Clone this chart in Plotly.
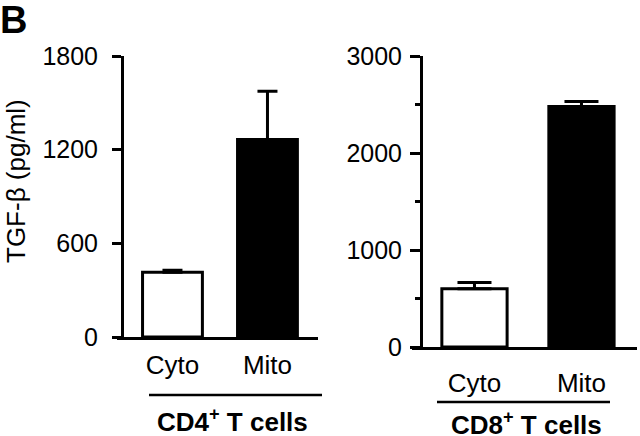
import plotly.graph_objects as go

categories = ["Cyto", "Mito"]
cd4_values = [415, 1265]
cd4_errors = [12, 310]
cd8_values = [600, 2480]
cd8_errors = [65, 50]
cd4_ticks = [0, 600, 1200, 1800]
cd8_ticks = [0, 1000, 2000, 3000]
bar_colors = ["white", "black"]
group_labels = ["CD4<sup>+</sup> T cells", "CD8<sup>+</sup> T cells"]
y_title = "TGF-β (pg/ml)"
panel_label = "B"

W, H = 640, 436
FONT = "Liberation Sans, Arial, Helvetica, sans-serif"


def px(x):
    return x / W


def py(y):
    return 1 - y / H


fig = go.Figure()
xpos = list(range(len(categories)))

fig.add_trace(go.Bar(
    x=xpos, y=cd4_values, width=0.63,
    marker=dict(color=bar_colors, line=dict(color="black", width=3)),
    error_y=dict(type="data", array=cd4_errors, arrayminus=[0, 0], symmetric=False,
                 color="black", thickness=3, width=10),
    xaxis="x", yaxis="y", showlegend=False,
))
fig.add_trace(go.Bar(
    x=xpos, y=cd8_values, width=0.61,
    marker=dict(color=bar_colors, line=dict(color="black", width=3)),
    error_y=dict(type="data", array=cd8_errors, arrayminus=[0, 0], symmetric=False,
                 color="black", thickness=3, width=17),
    xaxis="x2", yaxis="y2", showlegend=False,
))

tickfont = dict(family=FONT, size=25, color="black")
catfont = dict(family=FONT, size=26, color="black")

fig.update_layout(
    width=W, height=H,
    margin=dict(l=0, r=0, t=0, b=0, pad=0, autoexpand=False),
    paper_bgcolor="white", plot_bgcolor="white",
    font=dict(family=FONT, color="black"),
    xaxis=dict(domain=[px(117), px(318)], range=[-0.584, 1.532],
               tickvals=xpos, ticktext=categories, ticks="", ticklabelstandoff=3,
               tickfont=catfont,
               showline=True, linecolor="black", linewidth=3, showgrid=False,
               zeroline=False, anchor="y"),
    yaxis=dict(domain=[py(337), py(56)], range=[0, 1800], tickvals=cd4_ticks,
               ticks="outside", ticklen=9, tickwidth=3, tickcolor="black",
               ticklabelstandoff=9, tickfont=tickfont,
               showline=True, linecolor="black", linewidth=3, showgrid=False,
               zeroline=False, anchor="free", position=px(122)),
    xaxis2=dict(domain=[px(412), px(637)], range=[-0.584, 1.519],
                tickvals=xpos, ticktext=categories, ticks="", ticklabelstandoff=11,
                tickfont=catfont,
                showline=True, linecolor="black", linewidth=3, showgrid=False,
                zeroline=False, anchor="y2"),
    yaxis2=dict(domain=[py(347), py(56)], range=[0, 3000], tickvals=cd8_ticks,
                ticks="outside", ticklen=10, tickwidth=3, tickcolor="black",
                ticklabelstandoff=3, tickfont=tickfont,
                minor=dict(dtick=500, ticks="outside", ticklen=5, tickwidth=3, tickcolor="black", showgrid=False),
                showline=True, linecolor="black", linewidth=3, showgrid=False,
                zeroline=False, anchor="free", position=px(421)),
    shapes=[
        dict(type="line", xref="paper", yref="paper", x0=px(149), x1=px(322), y0=py(395), y1=py(395),
             line=dict(color="black", width=2.5)),
        dict(type="line", xref="paper", yref="paper", x0=px(437), x1=px(610), y0=py(402), y1=py(402),
             line=dict(color="black", width=2.5)),
    ],
    annotations=[
        dict(text="<b>" + group_labels[0] + "</b>", xref="paper", yref="paper", x=px(232), y=py(420),
             showarrow=False, font=dict(family=FONT, size=26, color="black"), xanchor="center", yanchor="middle"),
        dict(text="<b>" + group_labels[1] + "</b>", xref="paper", yref="paper", x=px(526), y=py(423),
             showarrow=False, font=dict(family=FONT, size=26, color="black"), xanchor="center", yanchor="middle"),
        dict(text=y_title, xref="paper", yref="paper", x=px(16), y=py(181), textangle=-90,
             showarrow=False, font=dict(family=FONT, size=26, color="black"), xanchor="center", yanchor="middle"),
        dict(text="<b>" + panel_label + "</b>", xref="paper", yref="paper", x=px(-2), y=py(-3),
             showarrow=False, font=dict(family=FONT, size=38, color="black"), xanchor="left", yanchor="top"),
    ],
)

fig.write_html("out.html", config={"displayModeBar": False},
               post_script="document.body.style.margin='0';")
